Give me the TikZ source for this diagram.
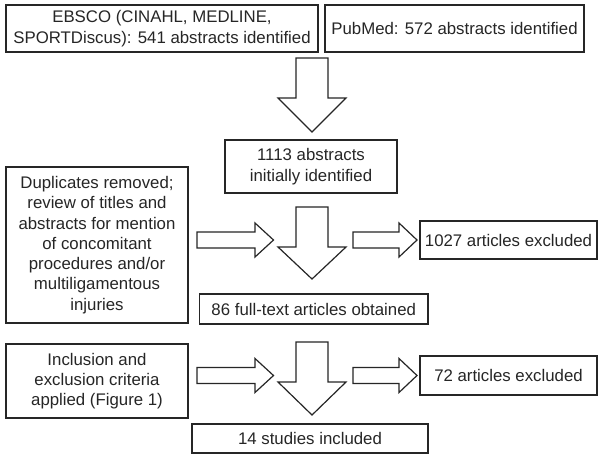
\documentclass[tikz,border=0pt]{standalone}
\usepackage{fontspec}
\setmainfont{Liberation Sans}
\newcommand\DnArrow[4]{% cx, top, headY, tip
  \draw[blk] ({#1-16},#2) -- ({#1+16},#2) -- ({#1+16},#3) -- ({#1+34},#3) -- (#1,#4) -- ({#1-34},#3) -- ({#1-16},#3) -- cycle;}
\newcommand\RtArrow[4]{% left, headX, tip, cy
  \draw[blk] (#1,{#4-8}) -- (#2,{#4-8}) -- (#2,{#4-17}) -- (#3,#4) -- (#2,{#4+17}) -- (#2,{#4+8}) -- (#1,{#4+8}) -- cycle;}
\begin{document}
\begin{tikzpicture}[x=1pt,y=-1pt,
  blk/.style={draw=black!85,line width=1.2pt,line join=miter,fill=white},
  box/.style={draw=black!85,line width=1.2pt,inner sep=0pt,align=center,text=black!85,
    font=\fontsize{16.8}{20.3}\selectfont}]
\useasboundingbox[fill=white] (0,0) rectangle (604,459);
\node[box,minimum width=312pt,minimum height=47pt] (ebsco) at (162,28.5) {EBSCO (CINAHL, MEDLINE,\\SPORTDiscus): 541 abstracts identified};
\node[box,minimum width=259pt,minimum height=47pt] (pubmed) at (454.5,28.5) {PubMed: 572 abstracts identified};
\node[box,minimum width=172pt,minimum height=53pt] (n1113) at (311,166.5) {1113 abstracts\\initially identified};
\node[box,minimum width=182pt,minimum height=156pt] (dup) at (97,245) {Duplicates removed;\\review of titles and\\abstracts for mention\\of concomitant\\procedures and/or\\multiligamentous\\injuries};
\node[box,minimum width=177pt,minimum height=38pt] (n1027) at (508.5,240) {1027 articles excluded};
\node[box,minimum width=228.5pt,minimum height=30pt] (n86) at (313.75,309) {86 full-text articles obtained};
\node[box,minimum width=182pt,minimum height=74pt] (incl) at (97,381) {Inclusion and\\exclusion criteria\\applied (Figure 1)};
\node[box,minimum width=177pt,minimum height=39pt] (n72) at (508.5,375.5) {72 articles excluded};
\node[box,minimum width=236pt,minimum height=29pt] (n14) at (310,438.5) {14 studies included};
\DnArrow{312}{58}{98}{132}
\DnArrow{312}{207}{247}{279}
\DnArrow{312}{342}{382}{415}
\RtArrow{197}{255}{273.5}{240}
\RtArrow{353}{399}{417}{240}
\RtArrow{197}{255}{273.5}{375.5}
\RtArrow{353}{399}{417}{375.5}
\end{tikzpicture}
\end{document}
